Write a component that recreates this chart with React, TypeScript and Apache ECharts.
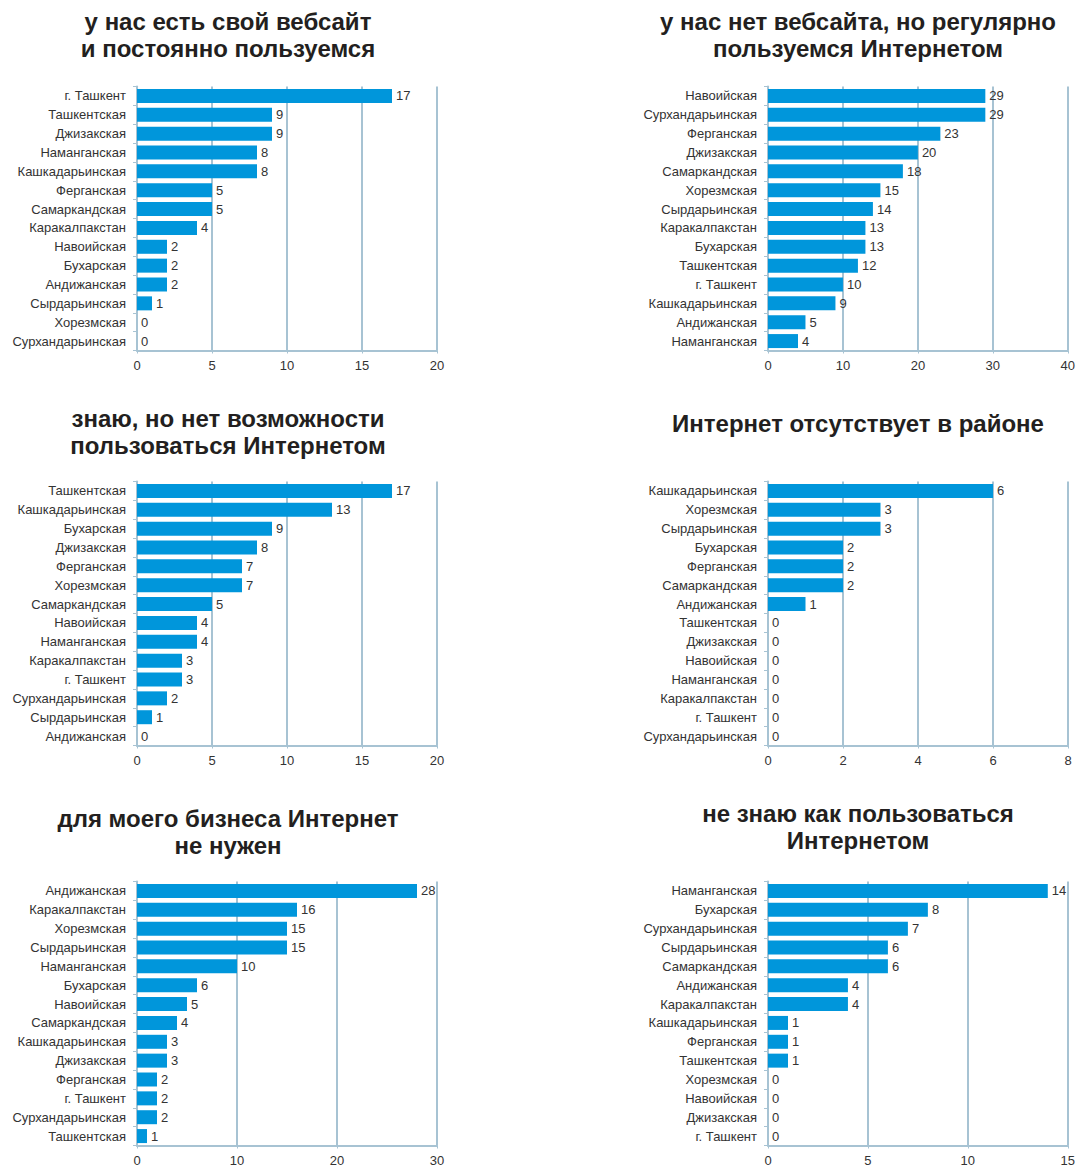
import React, { useEffect, useRef } from "react";
import * as echarts from "echarts";

const titles1 = "у нас есть свой вебсайт\nи постоянно пользуемся";
const cats1 = ["г. Ташкент", "Ташкентская", "Джизакская", "Наманганская", "Кашкадарьинская", "Ферганская", "Самаркандская", "Каракалпакстан", "Навоийская", "Бухарская", "Андижанская", "Сырдарьинская", "Хорезмская", "Сурхандарьинская"];
const vals1 = [17, 9, 9, 8, 8, 5, 5, 4, 2, 2, 2, 1, 0, 0];

const titles2 = "у нас нет вебсайта, но регулярно\nпользуемся Интернетом";
const cats2 = ["Навоийская", "Сурхандарьинская", "Ферганская", "Джизакская", "Самаркандская", "Хорезмская", "Сырдарьинская", "Каракалпакстан", "Бухарская", "Ташкентская", "г. Ташкент", "Кашкадарьинская", "Андижанская", "Наманганская"];
const vals2 = [29, 29, 23, 20, 18, 15, 14, 13, 13, 12, 10, 9, 5, 4];

const titles3 = "знаю, но нет возможности\nпользоваться Интернетом";
const cats3 = ["Ташкентская", "Кашкадарьинская", "Бухарская", "Джизакская", "Ферганская", "Хорезмская", "Самаркандская", "Навоийская", "Наманганская", "Каракалпакстан", "г. Ташкент", "Сурхандарьинская", "Сырдарьинская", "Андижанская"];
const vals3 = [17, 13, 9, 8, 7, 7, 5, 4, 4, 3, 3, 2, 1, 0];

const titles4 = "Интернет отсутствует в районе";
const cats4 = ["Кашкадарьинская", "Хорезмская", "Сырдарьинская", "Бухарская", "Ферганская", "Самаркандская", "Андижанская", "Ташкентская", "Джизакская", "Навоийская", "Наманганская", "Каракалпакстан", "г. Ташкент", "Сурхандарьинская"];
const vals4 = [6, 3, 3, 2, 2, 2, 1, 0, 0, 0, 0, 0, 0, 0];

const titles5 = "для моего бизнеса Интернет\nне нужен";
const cats5 = ["Андижанская", "Каракалпакстан", "Хорезмская", "Сырдарьинская", "Наманганская", "Бухарская", "Навоийская", "Самаркандская", "Кашкадарьинская", "Джизакская", "Ферганская", "г. Ташкент", "Сурхандарьинская", "Ташкентская"];
const vals5 = [28, 16, 15, 15, 10, 6, 5, 4, 3, 3, 2, 2, 2, 1];

const titles6 = "не знаю как пользоваться\nИнтернетом";
const cats6 = ["Наманганская", "Бухарская", "Сурхандарьинская", "Сырдарьинская", "Самаркандская", "Андижанская", "Каракалпакстан", "Кашкадарьинская", "Ферганская", "Ташкентская", "Хорезмская", "Навоийская", "Джизакская", "г. Ташкент"];
const vals6 = [14, 8, 7, 6, 6, 4, 4, 1, 1, 1, 0, 0, 0, 0];

const axisMax = [20, 40, 20, 8, 30, 15];
const axisInterval = [5, 10, 5, 2, 10, 5];

const panels = [
  { title: titles1, cats: cats1, vals: vals1 },
  { title: titles2, cats: cats2, vals: vals2 },
  { title: titles3, cats: cats3, vals: vals3 },
  { title: titles4, cats: cats4, vals: vals4 },
  { title: titles5, cats: cats5, vals: vals5 },
  { title: titles6, cats: cats6, vals: vals6 },
];

const FONT = "'Liberation Sans', Arial, Helvetica, sans-serif";
const AXIS_COLOR = "#a7c3d3";
const TEXT_COLOR = "#333333";
const BAR_COLOR = "#0096db";

// layout (positions only)
const gridLefts = [137, 768];
const gridTops = [86.5, 481.5, 881.5];
const gridW = 300;
const gridH = 264;
const titleCenters = [228, 858];
const titleTops = [[8, 8], [405, 410], [805, 800]];

export default function App() {
  const ref = useRef<HTMLDivElement>(null);
  useEffect(() => {
    document.body.style.margin = "0";
    if (!ref.current) return;
    const chart = echarts.init(ref.current, null, { renderer: "svg" });
    const grids: any[] = [];
    const xAxes: any[] = [];
    const yAxes: any[] = [];
    const series: any[] = [];
    const graphics: any[] = [];
    panels.forEach((p, i) => {
      const col = i % 2;
      const row = Math.floor(i / 2);
      grids.push({ left: gridLefts[col], top: gridTops[row], width: gridW, height: gridH, containLabel: false });
      xAxes.push({
        type: "value",
        gridIndex: i,
        min: 0,
        max: axisMax[i],
        interval: axisInterval[i],
        axisLine: { show: true, lineStyle: { color: AXIS_COLOR, width: 2 } },
        axisTick: { show: true, length: 3, lineStyle: { color: AXIS_COLOR, width: 1 } },
        splitLine: { show: true, lineStyle: { color: AXIS_COLOR, width: 2 } },
        axisLabel: { color: TEXT_COLOR, fontSize: 13, fontFamily: FONT, margin: 8 },
      });
      yAxes.push({
        type: "category",
        gridIndex: i,
        data: p.cats,
        inverse: true,
        axisLine: { show: true, lineStyle: { color: AXIS_COLOR, width: 2 } },
        axisTick: { show: true, length: 4, lineStyle: { color: AXIS_COLOR, width: 1 } },
        axisLabel: { color: TEXT_COLOR, fontSize: 13, fontFamily: FONT, margin: 11 },
      });
      series.push({
        type: "bar",
        xAxisIndex: i,
        yAxisIndex: i,
        data: p.vals,
        barWidth: 14,
        itemStyle: { color: BAR_COLOR },
        label: {
          show: true,
          position: "right",
          distance: 4,
          color: TEXT_COLOR,
          fontSize: 13,
          fontFamily: FONT,
        },
      });
      graphics.push({
        type: "text",
        x: titleCenters[col],
        y: titleTops[row][col],
        style: {
          text: p.title,
          font: `bold 24px ${FONT}`,
          fill: "#231f20",
          align: "center",
          textAlign: "center",
          verticalAlign: "top",
          textVerticalAlign: "top",
          lineHeight: 27,
        },
      });
    });
    chart.setOption({
      animation: false,
      backgroundColor: "#ffffff",
      grid: grids,
      xAxis: xAxes,
      yAxis: yAxes,
      series,
      graphic: graphics,
    });
    return () => chart.dispose();
  }, []);
  return <div ref={ref} style={{ width: 1078, height: 1167 }} />;
}
